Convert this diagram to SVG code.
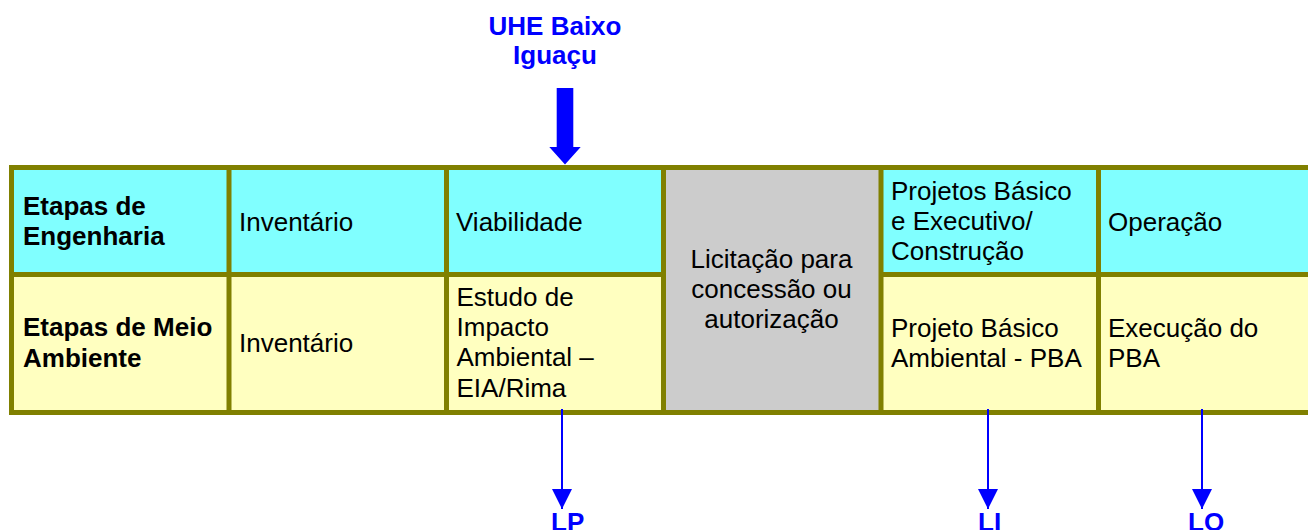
<svg xmlns="http://www.w3.org/2000/svg" width="1308" height="530" viewBox="0 0 1308 530">
<defs>
<style>
.t{font-family:"Liberation Sans",Arial,sans-serif;font-size:26px;fill:#000}
.b{font-weight:bold}
.blue{fill:#0000FF;font-weight:bold}
.cy{fill:#80FFFF}
.ye{fill:#FFFFC0}
.gr{fill:#CCCCCC}
.bd{stroke:#808000;stroke-width:5;fill:none}
.ln{stroke:#0000FF;stroke-width:2}
</style>
<marker id="ah" markerUnits="userSpaceOnUse" markerWidth="20" markerHeight="20" refX="20" refY="10" orient="auto">
<path d="M0,0 L20,10 L0,20 Z" fill="#0000FF"/>
</marker>
</defs>
<rect width="1308" height="530" fill="#FFFFFF"/>

<g id="cells">
<rect class="cy" x="11.5" y="167.5" width="1310" height="107"/>
<rect class="ye" x="11.5" y="274.5" width="1310" height="138"/>
<rect class="gr" x="663" y="167.5" width="217" height="245"/>
</g>

<g id="grid">
<line class="bd" x1="9" y1="167.5" x2="1320" y2="167.5"/>
<line class="bd" x1="9" y1="274.5" x2="663" y2="274.5"/>
<line class="bd" x1="880" y1="274.5" x2="1320" y2="274.5"/>
<line class="bd" x1="9" y1="412.5" x2="1320" y2="412.5"/>
<line class="bd" x1="11.5" y1="165" x2="11.5" y2="415"/>
<line class="bd" x1="229" y1="165" x2="229" y2="415"/>
<line class="bd" x1="446.5" y1="165" x2="446.5" y2="415"/>
<line class="bd" x1="663.5" y1="165" x2="663.5" y2="415"/>
<line class="bd" x1="881" y1="165" x2="881" y2="415"/>
<line class="bd" x1="1098.5" y1="165" x2="1098.5" y2="415"/>
</g>

<g id="eng-label"><text class="t b" x="23" y="215">Etapas de</text><text class="t b" x="23" y="244.5">Engenharia</text></g>
<g id="eng-inventario"><text class="t" x="239" y="231">Inventário</text></g>
<g id="eng-viabilidade"><text class="t" x="456" y="231">Viabilidade</text></g>
<g id="licitacao"><text class="t" x="771.5" y="268" text-anchor="middle">Licitação para</text><text class="t" x="771.5" y="298" text-anchor="middle">concessão ou</text><text class="t" x="771.5" y="328" text-anchor="middle">autorização</text></g>
<g id="eng-projetos"><text class="t" x="891" y="200">Projetos Básico</text><text class="t" x="891" y="230">e Executivo/</text><text class="t" x="891" y="260">Construção</text></g>
<g id="eng-operacao"><text class="t" x="1108" y="231">Operação</text></g>

<g id="ma-label"><text class="t b" x="23" y="336">Etapas de Meio</text><text class="t b" x="23" y="366.5">Ambiente</text></g>
<g id="ma-inventario"><text class="t" x="239" y="352">Inventário</text></g>
<g id="ma-eia"><text class="t" x="456.5" y="306">Estudo de</text><text class="t" x="456.5" y="336">Impacto</text><text class="t" x="456.5" y="366">Ambiental –</text><text class="t" x="456.5" y="397">EIA/Rima</text></g>
<g id="ma-pba"><text class="t" x="891" y="337">Projeto Básico</text><text class="t" x="891" y="367">Ambiental - PBA</text></g>
<g id="ma-execucao"><text class="t" x="1108" y="337">Execução do</text><text class="t" x="1108" y="367">PBA</text></g>

<g id="uhe"><text class="t blue" x="555" y="35" text-anchor="middle">UHE Baixo</text><text class="t blue" x="555" y="63.5" text-anchor="middle">Iguaçu</text></g>

<g id="connectors">
<path d="M556.7,88 H573.3 V147 H580.7 L565,164.5 L549.3,147 H556.7 Z" fill="#0000FF"/>
<line class="ln" x1="562" y1="409" x2="562" y2="509" marker-end="url(#ah)"/>
<line class="ln" x1="988" y1="409" x2="988" y2="509" marker-end="url(#ah)"/>
<line class="ln" x1="1202" y1="409" x2="1202" y2="509" marker-end="url(#ah)"/>
</g>

<g id="lp"><text class="t blue" x="551" y="531">LP</text></g>
<g id="li"><text class="t blue" x="978" y="531">LI</text></g>
<g id="lo"><text class="t blue" x="1188" y="531">LO</text></g>
</svg>
